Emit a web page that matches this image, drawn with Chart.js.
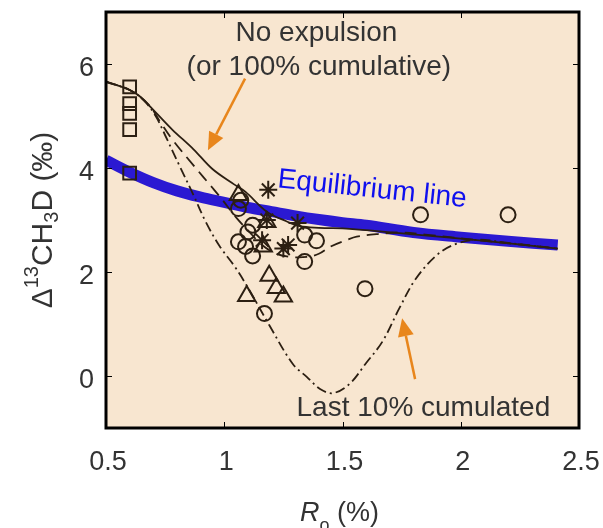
<!DOCTYPE html>
<html>
<head>
<meta charset="utf-8">
<script src="https://cdn.jsdelivr.net/npm/chart.js@4.4.1/dist/chart.umd.min.js"></script>
<style>
  html, body { margin: 0; padding: 0; background: #fff; }
  #wrap { width: 603px; height: 528px; }
</style>
</head>
<body>
<div id="wrap"><canvas id="canvas" width="603" height="528"></canvas></div>
<script>
// samples, Ro (%) vs D13CH3D (permil)
var squareX = [0.6, 0.6, 0.6, 0.6, 0.6];
var squareY = [5.56, 5.24, 5.05, 4.74, 3.9];

var circleX = [1.07, 1.06, 1.12, 1.10, 1.06, 1.09, 1.12, 1.34, 1.39, 1.34, 1.17, 1.595, 1.83, 2.20];
var circleY = [3.38, 3.22, 2.90, 2.77, 2.58, 2.49, 2.31, 2.71, 2.60, 2.20, 1.20, 1.68, 3.10, 3.10];

var triX = [1.06, 1.18, 1.165, 1.19, 1.22, 1.25, 1.095];
var triY = [3.48, 2.96, 2.49, 1.93, 1.69, 1.53, 1.54];

var starX = [1.186, 1.18, 1.16, 1.31, 1.27, 1.25];
var starY = [3.58, 3.00, 2.61, 2.94, 2.52, 2.45];

// model curves
var eqX = [0.5, 0.6, 0.7, 0.8, 0.9, 1.0, 1.1, 1.2, 1.3, 1.4, 1.5, 1.6, 1.8, 2.0, 2.2, 2.41];
var eqY = [4.15, 3.92, 3.72, 3.56, 3.44, 3.34, 3.24, 3.16, 3.08, 3.01, 2.95, 2.90, 2.76, 2.67, 2.59, 2.52];

var noExpX = [0.5, 0.6, 0.64, 0.71, 0.78, 0.87, 0.95, 1.04, 1.09, 1.18, 1.26, 1.32, 1.4, 1.53, 1.81, 2.1, 2.41];
var noExpY = [5.66, 5.5, 5.39, 5.07, 4.74, 4.36, 3.98, 3.69, 3.54, 3.16, 2.98, 2.88, 2.85, 2.83, 2.72, 2.6, 2.45];

var dashX = [0.5, 0.6, 0.68, 0.73, 0.78, 0.87, 0.95, 0.99, 1.05, 1.1, 1.16, 1.22, 1.28, 1.35, 1.40, 1.45, 1.52, 1.56, 1.65, 1.75, 1.85, 2.1, 2.41];
var dashY = [5.66, 5.5, 5.22, 4.88, 4.55, 4.05, 3.62, 3.40, 3.05, 2.8, 2.52, 2.35, 2.29, 2.29, 2.35, 2.49, 2.62, 2.68, 2.73, 2.76, 2.72, 2.6, 2.45];

var lastX = [0.5, 0.6, 0.66, 0.71, 0.75, 0.81, 0.87, 0.92, 0.98, 1.045, 1.1, 1.19, 1.29, 1.35, 1.405, 1.46, 1.53, 1.6, 1.67, 1.74, 1.81, 1.9, 1.98, 2.07, 2.2, 2.41];
var lastY = [5.66, 5.5, 5.3, 5.0, 4.63, 4.05, 3.48, 2.98, 2.5, 2.1, 1.7, 0.98, 0.23, -0.02, -0.25, -0.33, -0.15, 0.25, 0.67, 1.30, 1.87, 2.33, 2.54, 2.62, 2.56, 2.45];

var xTicks = [0.5, 1, 1.5, 2, 2.5];
var xTickLabels = ['0.5', '1', '1.5', '2', '2.5'];
var yTicks = [0, 2, 4, 6];

var ink = '#2c1f12';
var textGrey = '#333333';
var arrowColor = '#e8861c';
var font = "'Liberation Sans', Arial, sans-serif";

function pts(xs, ys) {
    return xs.map(function (x, i) { return { x: x, y: ys[i] }; });
}

// text labels and arrows, in data units
var notes = [
    { text: 'No expulsion', x: 1.39, y: 6.44, align: 'center', color: textGrey, angle: 0 },
    { text: '(or 100% cumulative)', x: 1.40, y: 5.79, align: 'center', color: textGrey, angle: 0 },
    { text: 'Equilibrium line', x: 1.223, y: 3.63, align: 'left', color: '#1010ee', angle: 0.105 },
    { text: 'Last 10% cumulated', x: 1.842, y: -0.77, align: 'center', color: textGrey, angle: 0 }
];
var arrows = [
    { from: [1.088, 5.72], to: [0.931, 4.34] },
    { from: [1.807, -0.06], to: [1.752, 1.11] }
];

var decor = {
    id: 'decor',
    beforeDraw: function (chart) {
        var a = chart.chartArea, ctx = chart.ctx;
        ctx.save();
        ctx.fillStyle = '#f8e6d0';
        ctx.fillRect(a.left, a.top, a.right - a.left, a.bottom - a.top);
        ctx.restore();
    },
    afterDraw: function (chart) {
        var a = chart.chartArea, ctx = chart.ctx;
        var xs = chart.scales.x, ys = chart.scales.y;
        ctx.save();

        // inward ticks on all sides
        ctx.strokeStyle = '#000';
        ctx.lineWidth = 1;
        ctx.beginPath();
        xTicks.forEach(function (v) {
            var px = Math.round(xs.getPixelForValue(v)) + 0.5;
            ctx.moveTo(px, a.bottom); ctx.lineTo(px, a.bottom - 6);
            ctx.moveTo(px, a.top); ctx.lineTo(px, a.top + 6);
        });
        yTicks.forEach(function (v) {
            var py = Math.round(ys.getPixelForValue(v)) + 0.5;
            ctx.moveTo(a.left, py); ctx.lineTo(a.left + 6, py);
            ctx.moveTo(a.right, py); ctx.lineTo(a.right - 6, py);
        });
        ctx.stroke();

        // frame
        ctx.lineWidth = 3;
        ctx.strokeRect(a.left, a.top, a.right - a.left, a.bottom - a.top);

        // notes
        ctx.font = '28px ' + font;
        ctx.textBaseline = 'alphabetic';
        notes.forEach(function (n) {
            ctx.save();
            ctx.translate(xs.getPixelForValue(n.x), ys.getPixelForValue(n.y));
            ctx.rotate(n.angle);
            ctx.fillStyle = n.color;
            ctx.textAlign = n.align;
            ctx.fillText(n.text, 0, 0);
            ctx.restore();
        });

        // arrows
        arrows.forEach(function (ar) {
            var x0 = xs.getPixelForValue(ar.from[0]), y0 = ys.getPixelForValue(ar.from[1]);
            var x1 = xs.getPixelForValue(ar.to[0]), y1 = ys.getPixelForValue(ar.to[1]);
            var ang = Math.atan2(y1 - y0, x1 - x0);
            var hl = 18, hw = 8;
            var bx = x1 - hl * Math.cos(ang), by = y1 - hl * Math.sin(ang);
            ctx.strokeStyle = arrowColor;
            ctx.fillStyle = arrowColor;
            ctx.lineWidth = 2.5;
            ctx.beginPath();
            ctx.moveTo(x0, y0); ctx.lineTo(bx, by);
            ctx.stroke();
            ctx.beginPath();
            ctx.moveTo(x1, y1);
            ctx.lineTo(bx + hw * Math.sin(ang), by - hw * Math.cos(ang));
            ctx.lineTo(bx - hw * Math.sin(ang), by + hw * Math.cos(ang));
            ctx.closePath();
            ctx.fill();
        });

        // y title: Δ13CH3D (‰)
        var parts = [['\u0394', 30, 0], ['13', 20, -14], ['CH', 30, 0], ['3', 20, 6], ['D', 30, 0], [' (\u2030)', 30, 0]];
        var total = 0;
        parts.forEach(function (p) { ctx.font = p[1] + 'px ' + font; p.push(ctx.measureText(p[0]).width); total += p[3]; });
        ctx.save();
        ctx.translate(52, (a.top + a.bottom) / 2);
        ctx.rotate(-Math.PI / 2);
        ctx.fillStyle = textGrey;
        ctx.textAlign = 'left';
        var cx = -total / 2;
        parts.forEach(function (p) {
            ctx.font = p[1] + 'px ' + font;
            ctx.fillText(p[0], cx, p[2]);
            cx += p[3];
        });
        ctx.restore();

        // x title: Ro (%)
        var xparts = [['R', 'italic 27px ', 0], ['o', '18px ', 10], [' (%)', '27px ', 0]];
        var tw = 0;
        xparts.forEach(function (p) { ctx.font = p[1] + font; p.push(ctx.measureText(p[0]).width); tw += p[3]; });
        var sx = (a.left + a.right) / 2 - tw / 2 - 3;
        ctx.fillStyle = textGrey;
        ctx.textAlign = 'left';
        xparts.forEach(function (p) {
            ctx.font = p[1] + font;
            ctx.fillText(p[0], sx, 521 + p[2]);
            sx += p[3];
        });

        ctx.restore();
    }
};

function markerSet(xs, ys, style, r) {
    return {
        data: pts(xs, ys),
        showLine: false,
        pointStyle: style,
        pointRadius: r,
        pointHoverRadius: r,
        pointBorderColor: ink,
        pointBackgroundColor: 'rgba(0,0,0,0)',
        pointBorderWidth: 2,
        order: 1
    };
}

function curveSet(xs, ys, dash, width, color, order) {
    return {
        data: pts(xs, ys),
        showLine: true,
        borderColor: color,
        borderWidth: width,
        borderDash: dash,
        pointRadius: 0,
        tension: 0.35,
        fill: false,
        order: order
    };
}

var config = {
    type: 'scatter',
    data: {
        datasets: [
            curveSet(eqX, eqY, [], 11, '#2b19d2', 10),
            curveSet(noExpX, noExpY, [], 1.8, ink, 5),
            curveSet(dashX, dashY, [12, 7], 1.8, ink, 5),
            curveSet(lastX, lastY, [10, 4, 2, 4], 1.8, ink, 5),
            markerSet(squareX, squareY, 'rect', 9),
            markerSet(circleX, circleY, 'circle', 7.5),
            markerSet(triX, triY, 'triangle', 10),
            markerSet(starX, starY, 'star', 9)
        ]
    },
    options: {
        responsive: false,
        animation: false,
        layout: { padding: { left: 0, right: 24, top: 10, bottom: 0 } },
        plugins: {
            legend: { display: false },
            tooltip: { enabled: false },
            title: { display: false }
        },
        scales: {
            x: {
                type: 'linear',
                min: 0.5, max: 2.5,
                grid: { display: false, drawTicks: false },
                border: { display: false },
                afterBuildTicks: function (s) { s.ticks = xTicks.map(function (v) { return { value: v }; }); },
                afterFit: function (s) { s.height = 100; s.paddingLeft = 0; s.paddingRight = 0; },
                ticks: {
                    autoSkip: false, maxRotation: 0, padding: 18, labelOffset: 2,
                    color: textGrey, font: { family: font, size: 27 },
                    callback: function (v, i) { return xTickLabels[i]; }
                }
            },
            y: {
                type: 'linear',
                min: -1, max: 7,
                grid: { display: false, drawTicks: false },
                border: { display: false },
                afterBuildTicks: function (s) { s.ticks = yTicks.map(function (v) { return { value: v }; }); },
                afterFit: function (s) { s.width = 106; s.paddingTop = 0; s.paddingBottom = 0; },
                ticks: {
                    autoSkip: false, padding: 12, labelOffset: 5,
                    color: textGrey, font: { family: font, size: 27 }
                }
            }
        }
    },
    plugins: [decor]
};

var ctx = document.getElementById('canvas');
window.myChart = new Chart(ctx, config);
</script>
</body>
</html>
